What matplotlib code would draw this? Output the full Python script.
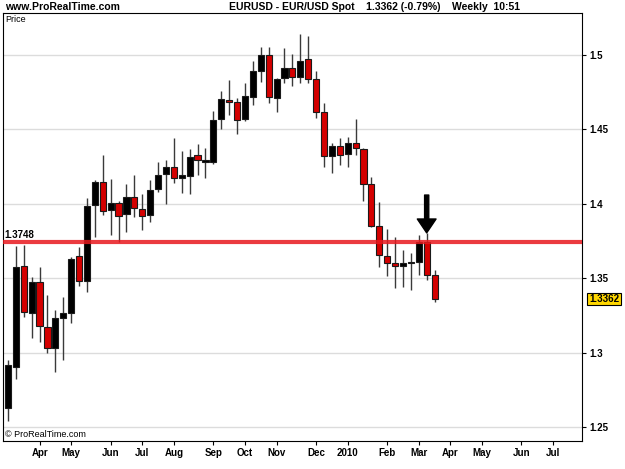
import pandas as pd
import matplotlib
matplotlib.use("Agg")
import matplotlib.pyplot as plt

# weekly EUR/USD candles, first week = week of 2 March 2009
start = pd.Timestamp("2009-03-02")
opens = [1.2633, 1.2904, 1.3583, 1.3268, 1.3479, 1.3177, 1.3032, 1.3233, 1.3266, 1.3651,
         1.3485, 1.3993, 1.4146, 1.3960, 1.4005, 1.3931, 1.4045, 1.3966, 1.3926, 1.4098,
         1.4199, 1.4250, 1.4172, 1.4190, 1.4329, 1.4284, 1.4284, 1.4568, 1.4698, 1.4683,
         1.4568, 1.4720, 1.4895, 1.5000, 1.4709, 1.4843, 1.4911, 1.4850, 1.4971, 1.4837,
         1.4620, 1.4324, 1.4391, 1.4333, 1.4407, 1.4367, 1.4132, 1.3853, 1.3653, 1.3602,
         1.3586, 1.3602, 1.3609, 1.3747, 1.3523]
highs = [1.2953, 1.3718, 1.3725, 1.3512, 1.3579, 1.3389, 1.3289, 1.3378, 1.3647, 1.3713,
         1.4038, 1.4161, 1.4329, 1.4168, 1.4020, 1.4134, 1.4195, 1.4067, 1.4161, 1.4284,
         1.4295, 1.4441, 1.4356, 1.4369, 1.4401, 1.4374, 1.4624, 1.4760, 1.4832, 1.4709,
         1.4810, 1.4960, 1.5056, 1.5056, 1.4845, 1.5045, 1.5007, 1.5139, 1.5128, 1.4895,
         1.4680, 1.4407, 1.4445, 1.4452, 1.4570, 1.4375, 1.4181, 1.4016, 1.3832, 1.3781,
         1.3691, 1.3673, 1.3792, 1.3808, 1.3557]
lows = [1.2544, 1.2823, 1.3244, 1.3099, 1.3076, 1.3002, 1.2874, 1.2953, 1.3199, 1.3452,
        1.3411, 1.3781, 1.3926, 1.3792, 1.3747, 1.3814, 1.3915, 1.3826, 1.3881, 1.4080,
        1.3998, 1.4143, 1.4076, 1.4065, 1.4195, 1.4172, 1.4270, 1.4503, 1.4597, 1.4470,
        1.4560, 1.4664, 1.4821, 1.4676, 1.4620, 1.4810, 1.4792, 1.4814, 1.4810, 1.4575,
        1.4250, 1.4206, 1.4262, 1.4250, 1.4329, 1.4020, 1.3845, 1.3579, 1.3519, 1.3434,
        1.3441, 1.3423, 1.3523, 1.3490, 1.3339]
closes = [1.2919, 1.3579, 1.3277, 1.3474, 1.3179, 1.3036, 1.3233, 1.3266, 1.3629, 1.3485,
          1.3987, 1.4150, 1.3955, 1.4009, 1.3922, 1.4049, 1.3971, 1.3922, 1.4094, 1.4195,
          1.4250, 1.4172, 1.4195, 1.4318, 1.4295, 1.4295, 1.4564, 1.4703, 1.4683, 1.4564,
          1.4725, 1.4895, 1.5000, 1.4716, 1.4837, 1.4911, 1.4855, 1.4960, 1.4837, 1.4620,
          1.4324, 1.4391, 1.4329, 1.4407, 1.4374, 1.4132, 1.3853, 1.3658, 1.3606, 1.3586,
          1.3606, 1.3611, 1.3747, 1.3523, 1.3362]

level = 1.3748
last_close = 1.3362
arrow_week = 53
month_starts = ["2009-04-01", "2009-05-01", "2009-06-01", "2009-07-01", "2009-08-01",
                "2009-09-01", "2009-10-01", "2009-11-01", "2009-12-01", "2010-01-01",
                "2010-02-01", "2010-03-01", "2010-04-01", "2010-05-01", "2010-06-01",
                "2010-07-01"]
month_labels = ["Apr", "May", "Jun", "Jul", "Aug", "Sep", "Oct", "Nov", "Dec", "2010",
                "Feb", "Mar", "Apr", "May", "Jun", "Jul"]
price_ticks = [1.25, 1.3, 1.35, 1.4, 1.45, 1.5]

df = pd.DataFrame({"Open": opens, "High": highs, "Low": lows, "Close": closes})
df["x"] = range(len(df))
df["up"] = df["Close"] >= df["Open"]

plt.rcParams["font.family"] = ["Liberation Sans Narrow", "Liberation Sans", "DejaVu Sans"]

fig = plt.figure(figsize=(6.25, 4.69), dpi=100)
ax = fig.add_axes([3 / 625, 28 / 469, 579 / 625, 428 / 469])

# price grid
for p in price_ticks:
    ax.axhline(p, color="#dcdcdc", lw=1, zorder=0)

# wicks and bodies
ax.vlines(df["x"], df["Low"], df["High"], color="#3a3a3a", lw=1, zorder=2)
body_lo = df[["Open", "Close"]].min(axis=1)
body_h = (df["Close"] - df["Open"]).abs().clip(lower=0.0004)
colors = ["#000000" if u else "#d40000" for u in df["up"]]
ax.bar(df["x"], body_h, bottom=body_lo, width=0.78, color=colors,
       edgecolor="#1a1a1a", linewidth=0.8, zorder=3)

# resistance line
ax.axhline(level, color="#e8191e", lw=3, alpha=0.85, zorder=4)
ax.text(-0.4, level + 0.0012, f"{level:.4f}", fontsize=7, fontweight="bold",
        ha="left", va="bottom", zorder=5)

# arrow over the rejection candle
ax.annotate("", xy=(arrow_week, highs[arrow_week] - 0.0002),
            xytext=(arrow_week, 1.406),
            arrowprops=dict(facecolor="black", edgecolor="black", width=3,
                            headwidth=13.5, headlength=10), zorder=6)

ax.set_xlim(-0.63, 72.66)
ax.set_ylim(1.2409, 1.5282)

# month ticks at the weekly candle containing the 1st
tick_pos = [(pd.Timestamp(d) - start).days // 7 for d in month_starts]
ax.set_xticks(tick_pos)
ax.set_xticklabels(month_labels, fontsize=7, fontweight="bold")
ax.yaxis.tick_right()
ax.set_yticks(price_ticks)
ax.set_yticklabels([f"{p:g}" for p in price_ticks], fontsize=7, fontweight="bold")
ax.tick_params(axis="both", direction="out", length=3, width=0.8, pad=2)
for s in ax.spines.values():
    s.set_linewidth(0.8)

# last price tag on the right axis
ax.text(1.012, last_close, f"{last_close:.4f}", transform=ax.get_yaxis_transform(),
        fontsize=7, fontweight="bold", ha="left", va="center", clip_on=False,
        bbox=dict(boxstyle="square,pad=0.15", facecolor="#ffd700", edgecolor="black", lw=0.8))

ax.text(0.004, 0.995, "Price", transform=ax.transAxes, fontsize=6.5, ha="left", va="top")
ax.text(0.004, 0.004, "\u00a9 ProRealTime.com", transform=ax.transAxes, fontsize=6.5,
        ha="left", va="bottom")

fig.text(5 / 625, 1 - 7 / 469, "www.ProRealTime.com", fontsize=7.5, fontweight="bold",
         ha="left", va="center")
fig.text(229 / 625, 1 - 7 / 469,
         "EURUSD - EUR/USD Spot    1.3362 (-0.79%)    Weekly  10:51",
         fontsize=7.5, fontweight="bold", ha="left", va="center")

fig.savefig("out.png", dpi=100)
